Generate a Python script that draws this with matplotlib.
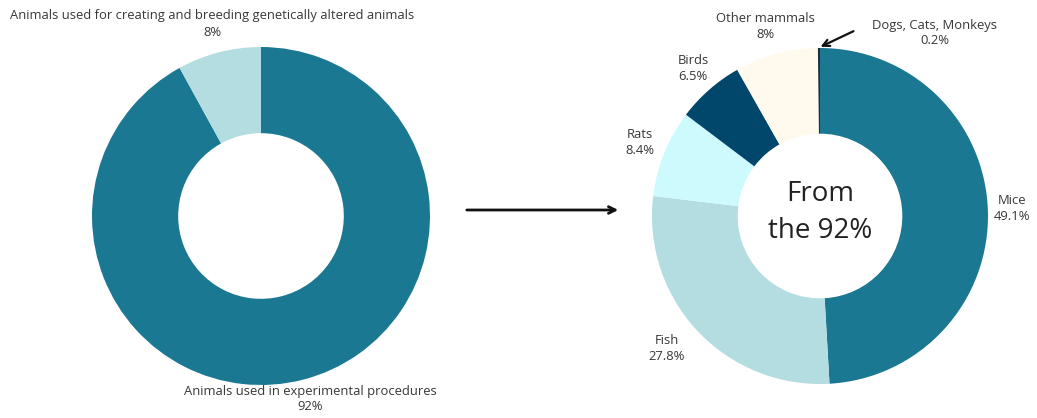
import matplotlib
matplotlib.use("Agg")
import matplotlib.pyplot as plt

plt.rcParams['font.family'] = ['Open Sans', 'DejaVu Sans']

# overall split
split_labels = ['Animals used in experimental procedures',
                'Animals used for creating and breeding genetically altered animals']
split_values = [92, 8]
split_colors = ['#1b7893', '#b3dde0']

# breakdown of the 92%
species = ['Mice', 'Fish', 'Rats', 'Birds', 'Other mammals', 'Dogs, Cats, Monkeys']
species_values = [49.1, 27.8, 8.4, 6.5, 8, 0.2]
species_colors = ['#1b7893', '#b3dde0', '#cdfbfd', '#00476b', '#fff9ee', '#1c2f3a']

W, H = 1037, 418
fig = plt.figure(figsize=(W / 100, H / 100), dpi=100)
txt = '#383838'


def px_axes(cx, cy, r):
    return fig.add_axes([(cx - r) / W, (H - cy - r) / H, 2 * r / W, 2 * r / H])


def label(x, y, name, value, ha='center'):
    fig.text(x / W, 1 - y / H, f"{name}\n{value:g}%", ha=ha, va='center',
             fontsize=9.4, color=txt, linespacing=1.3)


# left donut
ax1 = px_axes(261, 216, 169)
ax1.pie(split_values, colors=split_colors, startangle=90, counterclock=False,
        radius=1, wedgeprops=dict(width=0.51, edgecolor='none'))
ax1.set_xlim(-1, 1)
ax1.set_ylim(-1, 1)
ax1.axis('off')

# right donut
ax2 = px_axes(820, 216, 168)
ax2.pie(species_values, colors=species_colors, startangle=90, counterclock=False,
        radius=1, wedgeprops=dict(width=0.51, edgecolor='none'))
ax2.set_xlim(-1, 1)
ax2.set_ylim(-1, 1)
ax2.axis('off')
ax2.text(0, 0.02, 'From\nthe 92%', ha='center', va='center', fontsize=20,
         color='#222222', linespacing=1.45)

label(212, 24, split_labels[1], split_values[1])
label(310, 399, split_labels[0], split_values[0])

label(1012, 209, species[0], species_values[0])
label(667, 349, species[1], species_values[1])
label(640, 142, species[2], species_values[2])
label(693, 69, species[3], species_values[3])
label(765, 27, species[4], species_values[4])
label(935, 33, species[5], species_values[5])

# arrows
fig.add_artist(matplotlib.patches.FancyArrowPatch(
    (464 / W, 1 - 210 / H), (621 / W, 1 - 210 / H), transform=fig.transFigure,
    arrowstyle='->', mutation_scale=12, lw=2, color='#111111'))
fig.add_artist(matplotlib.patches.FancyArrowPatch(
    (856 / W, 1 - 30 / H), (818 / W, 1 - 48 / H), transform=fig.transFigure,
    arrowstyle='->', mutation_scale=12, lw=1.6, color='#111111'))

fig.savefig('out.png', dpi=100, facecolor='white')
